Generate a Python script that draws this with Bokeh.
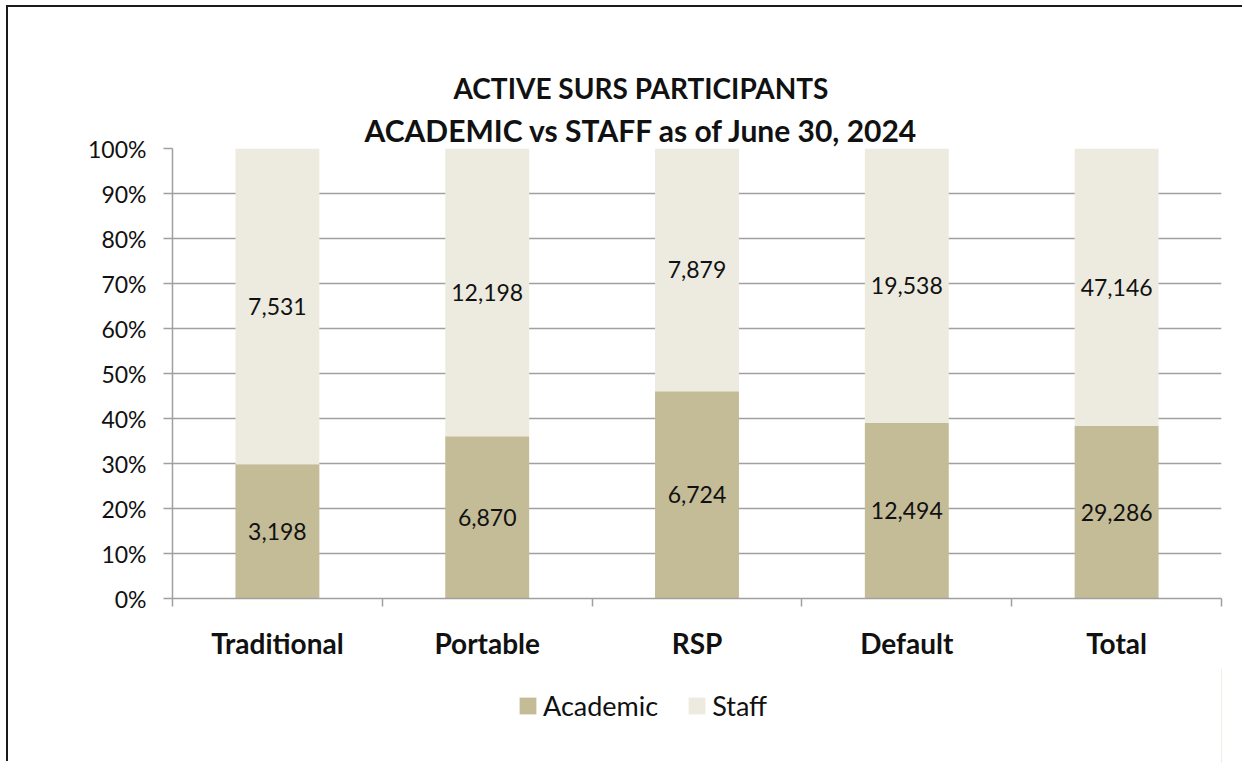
from bokeh.plotting import figure
from bokeh.layouts import column
from bokeh.models import (ColumnDataSource, FixedTicker, NumeralTickFormatter, Legend,
                          LegendItem, Title, Range1d)
from bokeh.core.properties import value
from bokeh.embed import file_html
from bokeh.resources import INLINE

categories = ["Traditional", "Portable", "RSP", "Default", "Total"]
academic = [3198, 6870, 6724, 12494, 29286]
staff = [7531, 12198, 7879, 19538, 47146]
series = ["Academic", "Staff"]
colors = ["#C4BB97", "#EDEBE0"]
title_lines = ["ACTIVE SURS PARTICIPANTS", "ACADEMIC vs STAFF as of June 30, 2024"]
y_ticks = [i / 10 for i in range(11)]

FONT = "Lato"
INK = "#111111"
GRID = "#A0A0A0"
W = 1236

xs = [i + 1 for i in range(len(categories))]
totals = [a + s for a, s in zip(academic, staff)]
a_frac = [a / t for a, t in zip(academic, totals)]

src = ColumnDataSource(dict(
    x=xs, zero=[0] * len(xs), a_top=a_frac, one=[1] * len(xs),
    a_mid=[f / 2 for f in a_frac], s_mid=[(f + 1) / 2 for f in a_frac],
    a_lab=[f"{v:,}" for v in academic], s_lab=[f"{v:,}" for v in staff],
))

p = figure(width=W, height=661, x_range=Range1d(0.5, len(categories) + 0.5), y_range=Range1d(0, 1),
           output_backend="svg", toolbar_location=None,
           min_border_left=164, min_border_right=W - 1213, min_border_top=141, min_border_bottom=70)
p.outline_line_color = None
p.background_fill_color = "white"
p.border_fill_color = "white"

r_a = p.vbar(x="x", bottom="zero", top="a_top", width=0.4, source=src,
             fill_color=colors[0], line_color=None)
r_s = p.vbar(x="x", bottom="a_top", top="one", width=0.4, source=src,
             fill_color=colors[1], line_color=None)

p.text(x="x", y="a_mid", text="a_lab", source=src, text_align="center", text_baseline="middle",
       text_font=value(FONT), text_font_size="23px", text_color=INK)
p.text(x="x", y="s_mid", text="s_lab", source=src, text_align="center", text_baseline="middle",
       text_font=value(FONT), text_font_size="23px", text_color=INK)

# y axis
yax = p.yaxis[0]
yax.ticker = FixedTicker(ticks=y_ticks, minor_ticks=[])
yax.formatter = NumeralTickFormatter(format="0%")
yax.major_label_text_font = FONT
yax.major_label_text_font_size = "23px"
yax.major_label_text_color = INK
yax.axis_line_color = GRID
yax.axis_line_width = 1.5
yax.major_tick_line_color = GRID
yax.major_tick_line_width = 1.5
yax.major_tick_out = 9
yax.major_tick_in = 0
yax.minor_tick_line_color = None
yax.major_label_standoff = 17

# x axis
xax = p.xaxis[0]
xax.ticker = FixedTicker(ticks=xs, minor_ticks=[i + 0.5 for i in range(len(categories) + 1)])
xax.major_label_overrides = {x: c for x, c in zip(xs, categories)}
xax.major_label_text_font = FONT
xax.major_label_text_font_size = "28px"
xax.major_label_text_font_style = "bold"
xax.major_label_text_color = INK
xax.axis_line_color = GRID
xax.axis_line_width = 1.5
xax.major_tick_line_color = None
xax.major_tick_out = 0
xax.major_tick_in = 0
xax.minor_tick_line_color = GRID
xax.minor_tick_line_width = 1.5
xax.minor_tick_out = 8
xax.minor_tick_in = 0
xax.major_label_standoff = 19

p.xgrid.visible = False
p.ygrid.ticker = FixedTicker(ticks=y_ticks)
p.ygrid.grid_line_color = GRID
p.ygrid.grid_line_width = 1.5

# title (closest to the frame first)
p.add_layout(Title(text=title_lines[1], align="left", offset=192, standoff=2,
                   text_font=FONT, text_font_size="30px", text_font_style="bold",
                   text_color=INK), "above")
p.add_layout(Title(text=title_lines[0], align="left", offset=281, standoff=7,
                   text_font=FONT, text_font_size="28px", text_font_style="bold",
                   text_color=INK), "above")

# legend strip under the chart (its frame is aligned with the chart's frame)
q = figure(width=W, height=95, x_range=Range1d(0, 1), y_range=Range1d(0, 1),
           output_backend="svg", toolbar_location=None,
           x_axis_location=None, y_axis_location=None, min_border=0)
q.outline_line_color = None
q.background_fill_color = "white"
q.border_fill_color = "white"
q.xgrid.visible = False
q.ygrid.visible = False
la = q.vbar(x=[5], top=[1], width=0.1, fill_color=colors[0], line_color=None)
ls = q.vbar(x=[5], top=[1], width=0.1, fill_color=colors[1], line_color=None)
legend = Legend(items=[LegendItem(label=series[0], renderers=[la]),
                       LegendItem(label=series[1], renderers=[ls])],
                orientation="horizontal", location=(345, 41),
                label_text_font=FONT, label_text_font_size="27px", label_text_color=INK,
                glyph_width=21, glyph_height=21, label_standoff=5, spacing=28,
                padding=0, margin=0, border_line_color=None, background_fill_alpha=0)
q.add_layout(legend)

layout = column(p, q, spacing=0,
                styles={"margin-left": "8px", "margin-top": "7px",
                        "box-shadow": "-2px -2px 0 0 #1a1a1a"})
open("out.html", "w").write(file_html(layout, INLINE))
